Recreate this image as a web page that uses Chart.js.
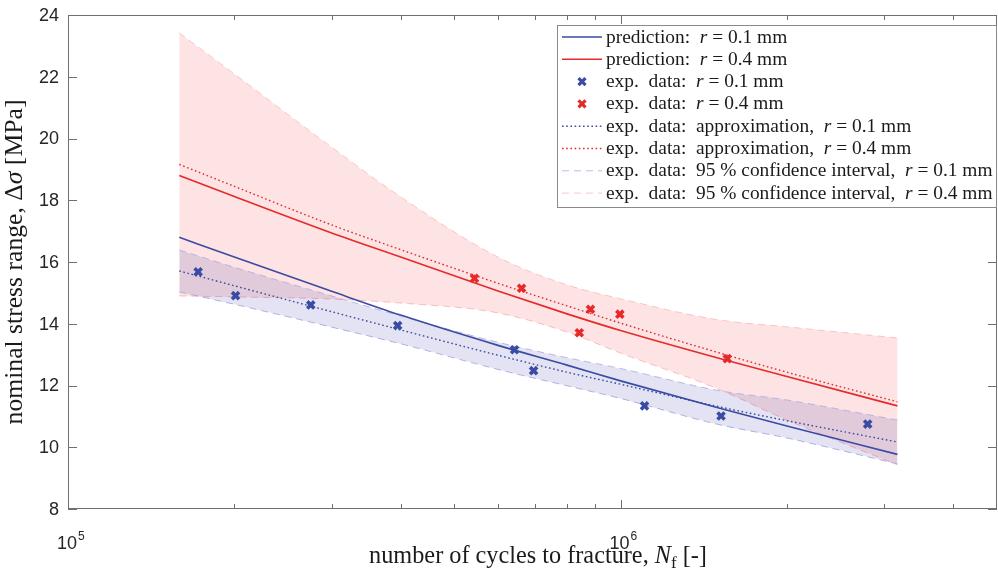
<!DOCTYPE html>
<html lang="en">
<head>
<meta charset="UTF-8">
<title>Nominal stress range vs number of cycles</title>
<script src="https://cdn.jsdelivr.net/npm/chart.js@4.4.1/dist/chart.umd.min.js"></script>
<style>
  html, body { margin: 0; padding: 0; background: #fff; }
  #wrap { width: 998px; height: 575px; position: relative; }
</style>
</head>
<body>
<div id="wrap"><canvas id="snChart"></canvas></div>
<script>
const curveN = [1.59e5, 2e5, 3e5, 4e5, 6e5, 8e5, 1e6, 1.5e6, 2e6, 3.17e6];

const predBlue   = [16.80, 16.16, 15.05, 14.28, 13.30, 12.66, 12.15, 11.28, 10.69, 9.77];
const predRed    = [18.80, 18.12, 16.94, 16.16, 15.06, 14.32, 13.78, 12.89, 12.29, 11.34];
const approxBlue = [15.71, 15.23, 14.39, 13.80, 12.98, 12.43, 12.04, 11.32, 10.86, 10.17];
const approxRed  = [19.16, 18.45, 17.20, 16.40, 15.31, 14.58, 14.02, 13.07, 12.43, 11.47];
const ciBlueUp   = [16.39, 15.83, 14.90, 14.25, 13.40, 12.90, 12.55, 11.84, 11.53, 10.88];
const ciBlueLow  = [15.03, 14.63, 13.89, 13.35, 12.52, 11.99, 11.58, 10.74, 10.30, 9.46];
const ciRedUp    = [23.42, 22.09, 19.72, 18.11, 16.16, 15.26, 14.81, 14.13, 13.90, 13.54];
const ciRedLow   = [14.90, 14.87, 14.80, 14.67, 14.35, 13.73, 13.05, 11.89, 10.88, 9.43];

// experimental points
const expBlueN = [1.72e5, 2.01e5, 2.75e5, 3.95e5, 6.43e5, 6.96e5, 1.105e6, 1.52e6, 2.8e6];
const expBlueS = [15.68, 14.91, 14.61, 13.94, 13.16, 12.48, 11.34, 11.01, 10.75];
const expRedN  = [5.44e5, 6.62e5, 8.42e5, 8.82e5, 9.97e5, 1.56e6];
const expRedS  = [15.47, 15.15, 13.71, 14.47, 14.31, 12.87];

// axes
const xMajorTicks = [1e5, 1e6];
const xMinorTicks = [2e5, 3e5, 4e5, 5e5, 6e5, 7e5, 8e5, 9e5, 2e6, 3e6, 4e6];
const yTicks = [8, 10, 12, 14, 16, 18, 20, 22, 24];

const legendLabels = [
    'prediction:  *r* = 0.1 mm',
    'prediction:  *r* = 0.4 mm',
    'exp.  data:  *r* = 0.1 mm',
    'exp.  data:  *r* = 0.4 mm',
    'exp.  data:  approximation,  *r* = 0.1 mm',
    'exp.  data:  approximation,  *r* = 0.4 mm',
    'exp.  data:  95 % confidence interval,  *r* = 0.1 mm',
    'exp.  data:  95 % confidence interval,  *r* = 0.4 mm'
];
// dataset shown by each legend row
const legendSets = [0, 1, 2, 3, 4, 5, 6, 8];

const blue = '#3a4ba3';
const red = '#e62a2a';
const serif = '"Liberation Serif", "Times New Roman", serif';
const sans = '"Liberation Sans", Arial, sans-serif';

function pts(xs, ys) {
    return xs.map((x, i) => ({ x: x, y: ys[i] }));
}

function line(label, ys, color, dash, width) {
    return {
        label: label, data: pts(curveN, ys),
        borderColor: color, borderWidth: width || 1.6, borderDash: dash || [],
        pointRadius: 0, fill: false, cubicInterpolationMode: 'monotone'
    };
}

function band(label, ys, edgeColor, fillColor, fillTo) {
    return {
        label: label, data: pts(curveN, ys),
        borderColor: edgeColor, borderWidth: 1, borderDash: [7, 5],
        backgroundColor: fillColor, fill: fillTo,
        pointRadius: 0, cubicInterpolationMode: 'monotone'
    };
}

function markers(label, xs, ys, color) {
    return {
        label: label, data: pts(xs, ys), showLine: false,
        pointStyle: 'crossRot', pointRadius: 5, borderWidth: 3.6,
        borderColor: color, pointBorderColor: color
    };
}

const datasets = [
    line('prediction r=0.1', predBlue, blue),
    line('prediction r=0.4', predRed, red),
    markers('exp r=0.1', expBlueN, expBlueS, blue),
    markers('exp r=0.4', expRedN, expRedS, red),
    line('approx r=0.1', approxBlue, blue, [1.6, 2.6], 1.4),
    line('approx r=0.4', approxRed, red, [1.6, 2.6], 1.4),
    band('ci up r=0.1', ciBlueUp, 'rgba(170,170,225,0.8)', 'rgba(60,60,170,0.14)', '+1'),
    band('ci low r=0.1', ciBlueLow, 'rgba(170,170,225,0.8)', 'transparent', false),
    band('ci up r=0.4', ciRedUp, 'rgba(250,185,185,0.8)', 'rgba(240,40,40,0.13)', '+1'),
    band('ci low r=0.4', ciRedLow, 'rgba(250,185,185,0.8)', 'transparent', false)
];

// draw text made of [text, style] pieces, style: '' normal, 'i' italic, 'sub' subscript
function drawRich(ctx, segs, x, y, size, align) {
    const fontFor = s => (s[1] === 'i' ? 'italic ' : '') + (s[1] === 'sub' ? size * 0.7 : size) + 'px ' + serif;
    let w = 0;
    segs.forEach(s => { ctx.font = fontFor(s); w += ctx.measureText(s[0]).width; });
    let cx = align === 'center' ? x - w / 2 : x;
    ctx.textAlign = 'left';
    segs.forEach(s => {
        ctx.font = fontFor(s);
        ctx.fillText(s[0], cx, s[1] === 'sub' ? y + size * 0.22 : y);
        cx += ctx.measureText(s[0]).width;
    });
    return w;
}

function parseStars(str) {
    return str.split('*').map((t, i) => [t, i % 2 ? 'i' : '']);
}

// size that makes a piece of text a given width
function fitSize(ctx, segs, width) {
    ctx.save();
    ctx.globalAlpha = 0;
    const w = drawRich(ctx, segs, -9999, -9999, 20, 'left');
    ctx.restore();
    return 20 * width / w;
}

const frame = {
    id: 'frame',
    afterDraw(chart) {
        const ctx = chart.ctx, a = chart.chartArea;
        const xs = chart.scales.x, ys = chart.scales.y;
        ctx.save();

        // box and inward ticks
        ctx.strokeStyle = '#707070';
        ctx.lineWidth = 1;
        ctx.strokeRect(a.left + 0.5, a.top + 0.5, a.right - a.left - 1, a.bottom - a.top - 1);
        ctx.beginPath();
        yTicks.forEach(v => {
            const y = Math.round(ys.getPixelForValue(v)) + 0.5;
            ctx.moveTo(a.left, y); ctx.lineTo(a.left + 9, y);
            ctx.moveTo(a.right, y); ctx.lineTo(a.right - 9, y);
        });
        xMajorTicks.concat(xMinorTicks).forEach(v => {
            const len = xMajorTicks.includes(v) ? 9 : 5;
            const x = Math.round(xs.getPixelForValue(v)) + 0.5;
            ctx.moveTo(x, a.bottom); ctx.lineTo(x, a.bottom - len);
            ctx.moveTo(x, a.top); ctx.lineTo(x, a.top + len);
        });
        ctx.stroke();

        // y tick labels
        ctx.fillStyle = '#262626';
        ctx.font = '18px ' + sans;
        ctx.textAlign = 'right';
        ctx.textBaseline = 'middle';
        yTicks.forEach(v => ctx.fillText(String(v), a.left - 9, ys.getPixelForValue(v) + 1));

        // x tick labels 10^n
        ctx.textBaseline = 'alphabetic';
        xMajorTicks.forEach(v => {
            const x = xs.getPixelForValue(v);
            ctx.font = '18px ' + sans;
            ctx.textAlign = 'right';
            ctx.fillText('10', x + 9, a.bottom + 40);
            ctx.font = '12px ' + sans;
            ctx.textAlign = 'left';
            ctx.fillText(String(Math.round(Math.log10(v))), x + 10, a.bottom + 31);
        });

        // axis titles
        ctx.fillStyle = '#1a1a1a';
        const xTitle = [['number of cycles to fracture, ', ''], ['N', 'i'], ['f', 'sub'], [' [-]', '']];
        drawRich(ctx, xTitle, 538, 563, fitSize(ctx, xTitle, 338), 'center');
        const yTitle = [['nominal stress range, \u0394', ''], ['\u03c3', 'i'], [' [MPa]', '']];
        ctx.save();
        ctx.translate(22, (a.top + a.bottom) / 2);
        ctx.rotate(-Math.PI / 2);
        drawRich(ctx, yTitle, 0, 0, fitSize(ctx, yTitle, 325), 'center');
        ctx.restore();

        // legend
        const lx = 557.5, ly = 25.5, lw = 439, lh = 182, row = 22.3;
        ctx.fillStyle = '#fff';
        ctx.fillRect(lx, ly, lw, lh);
        ctx.strokeStyle = '#8a8a8a';
        ctx.strokeRect(lx, ly, lw, lh);
        const lsize = fitSize(ctx, parseStars(legendLabels[7]), 387);
        legendLabels.forEach((lab, i) => {
            const ds = chart.data.datasets[legendSets[i]];
            const y = ly + 11.5 + i * row;
            ctx.save();
            ctx.strokeStyle = ds.borderColor;
            if (ds.showLine === false) {
                ctx.lineWidth = 3.2;
                ctx.beginPath();
                ctx.moveTo(578.5, y - 3.5); ctx.lineTo(585.5, y + 3.5);
                ctx.moveTo(585.5, y - 3.5); ctx.lineTo(578.5, y + 3.5);
                ctx.stroke();
            } else {
                ctx.lineWidth = ds.borderWidth;
                ctx.setLineDash(ds.borderDash);
                ctx.beginPath();
                ctx.moveTo(562, y); ctx.lineTo(602, y);
                ctx.stroke();
            }
            ctx.restore();
            ctx.fillStyle = '#1a1a1a';
            drawRich(ctx, parseStars(lab), 606, y + 5.5, lsize, 'left');
        });
        ctx.restore();
    }
};

new Chart(document.getElementById('snChart'), {
    type: 'line',
    data: { datasets: datasets },
    options: {
        responsive: true,
        maintainAspectRatio: false,
        animation: false,
        layout: { autoPadding: false, padding: { left: 0, right: 1, top: 15, bottom: 0 } },
        plugins: {
            legend: { display: false },
            tooltip: { enabled: false }
        },
        scales: {
            x: {
                type: 'logarithmic', min: 1e5, max: 4.8e6,
                grid: { display: false, drawTicks: false },
                border: { display: false },
                ticks: { display: false },
                afterFit: s => { s.height = 66; }
            },
            y: {
                min: 8, max: 24,
                grid: { display: false, drawTicks: false },
                border: { display: false },
                ticks: { display: false },
                afterFit: s => { s.width = 68; }
            }
        }
    },
    plugins: [frame]
});
</script>
</body>
</html>
